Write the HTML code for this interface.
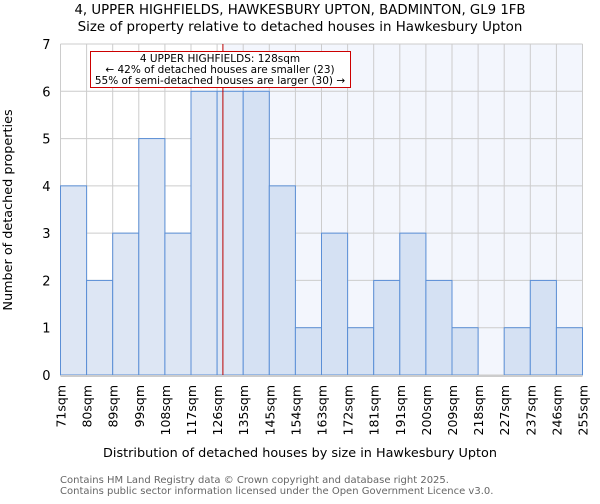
<!DOCTYPE html>
<html><head><meta charset="utf-8"><style>
body{margin:0;background:#fff;font-family:"DejaVu Sans","Liberation Sans",sans-serif}
svg text{font-family:"DejaVu Sans","Liberation Sans",sans-serif}
</style></head><body>
<svg id="c" width="600" height="500" xmlns="http://www.w3.org/2000/svg">
<text x="300" y="14" text-anchor="middle" font-size="13.3">4, UPPER HIGHFIELDS, HAWKESBURY UPTON, BADMINTON, GL9 1FB</text>
<text x="300" y="31" text-anchor="middle" font-size="13.4">Size of property relative to detached houses in Hawkesbury Upton</text>
<g id="plot"></g>
<text x="300" y="457" text-anchor="middle" font-size="12.8">Distribution of detached houses by size in Hawkesbury Upton</text>
<text transform="translate(12,210) rotate(-90)" text-anchor="middle" font-size="12.8">Number of detached properties</text>
<text x="60" y="483" font-size="10" fill="#666">Contains HM Land Registry data © Crown copyright and database right 2025.</text>
<text x="60" y="494" font-size="10" fill="#666">Contains public sector information licensed under the Open Government Licence v3.0.</text>
</svg>
<script>
const categories=["71sqm","80sqm","89sqm","99sqm","108sqm","117sqm","126sqm","135sqm","145sqm","154sqm","163sqm","172sqm","181sqm","191sqm","200sqm","209sqm","218sqm","227sqm","237sqm","246sqm","255sqm"];
const counts=[4,2,3,5,3,6,6,6,4,1,3,1,2,3,2,1,0,1,2,1];
const yTicks=[0,1,2,3,4,5,6,7];
const propertySize=128;
const binStarts=[71,80,89,99,108,117,126,135,145,154,163,172,181,191,200,209,218,227,237,246,255];
const X0=60.5,X1=582.5,Y0=375,Y1=44,YMAX=7;
const bw=(X1-X0)/counts.length;
const xs=i=>X0+i*bw;
const ys=v=>Y0-(Y0-Y1)*v/YMAX;
const ns="http://www.w3.org/2000/svg";
const g=document.getElementById('plot');
function mk(t,a){const e=document.createElementNS(ns,t);for(const k in a)e.setAttribute(k,a[k]);g.appendChild(e);return e;}
let bi=0;for(let i=0;i<binStarts.length-1;i++){if(propertySize>=binStarts[i]&&propertySize<binStarts[i+1])bi=i;}
const px=xs(bi)+bw*(propertySize-binStarts[bi])/(binStarts[bi+1]-binStarts[bi]);
let bg=mk('rect',{x:px,y:Y1,width:X1-px,height:Y0-Y1,fill:'#f3f6fd'});


for(let i=0;i<=counts.length;i++){let l=mk('line',{x1:xs(i),x2:xs(i),y1:Y1,y2:Y0,stroke:'#cccccc','stroke-width':1});

}
yTicks.forEach(t=>{let l=mk('line',{x1:X0,x2:X1,y1:ys(t),y2:ys(t),stroke:'#cccccc','stroke-width':1});


let tx=mk('text',{x:X0-10,y:ys(t)+5,'text-anchor':'end','font-size':'13'});tx.textContent=t;

});
counts.forEach((v,i)=>{const left=xs(i)<px;let r=mk('rect',{x:xs(i),y:ys(v),width:bw,height:Y0-ys(v),fill:left?'#dde6f4':'#d5e1f3',stroke:'#5b8fd6','stroke-width':1});

});
let ax=mk('line',{x1:X0,x2:X1,y1:Y0+1,y2:Y0+1,stroke:'#cccccc','stroke-width':2});


categories.forEach((c,i)=>{const x=xs(i);let t=mk('text',{transform:`translate(${x+5},${Y0+10}) rotate(-90)`,'text-anchor':'end','font-size':'12.5'});t.textContent=c;

});
let rl=mk('line',{x1:px,x2:px,y1:Y1,y2:Y0,stroke:'#bb0000','stroke-width':1});


let box=mk('rect',{x:90.5,y:51.5,width:260,height:36,fill:'#fff',stroke:'#cc0000','stroke-width':1});


["4 UPPER HIGHFIELDS: 128sqm","← 42% of detached houses are smaller (23)","55% of semi-detached houses are larger (30) →"].forEach((s,i)=>{let t=mk('text',{x:220,y:62+i*11,'text-anchor':'middle','font-size':'10.5'});t.textContent=s;

});
</script>
</body></html>
